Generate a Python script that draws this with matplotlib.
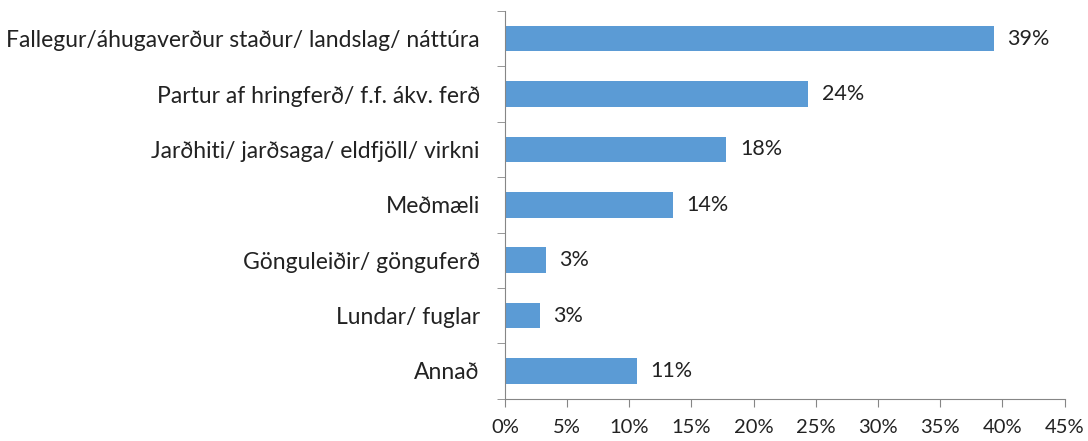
import numpy as np
import matplotlib.pyplot as plt
from matplotlib.ticker import FixedLocator

categories = ['Fallegur/áhugaverður staður/ landslag/ náttúra',
              'Partur af hringferð/ f.f. ákv. ferð',
              'Jarðhiti/ jarðsaga/ eldfjöll/ virkni',
              'Meðmæli',
              'Gönguleiðir/ gönguferð',
              'Lundar/ fuglar',
              'Annað']
values = [39.3, 24.4, 17.8, 13.5, 3.3, 2.8, 10.6]
labels = ['39%', '24%', '18%', '14%', '3%', '3%', '11%']
xticks = np.arange(0, 46, 5)

plt.rcParams['font.family'] = ['Lato', 'DejaVu Sans']

fig = plt.figure(figsize=(10.88, 4.41), dpi=100)
ax = fig.add_axes([0.464, 0.096, 0.5145, 0.879])

y = np.arange(len(categories))
ax.barh(y, values, height=0.46, color='#5B9BD5')
for yi, v, lab in zip(y, values, labels):
    ax.text(v + 1.1, yi, lab, va='center', ha='left', fontsize=15.5, color='#222222')

ax.set_ylim(len(categories) - 0.5, -0.5)
ax.set_xlim(0, 45)
ax.set_yticks(y)
ax.set_yticklabels(categories, fontsize=16.5, color='#222222')
ax.yaxis.set_minor_locator(FixedLocator(np.arange(-0.5, len(categories), 1)))
ax.tick_params(axis='y', which='major', length=0, pad=18)
ax.tick_params(axis='y', which='minor', length=6, color='#868686', direction='out')

ax.set_xticks(xticks)
ax.set_xticklabels([f'{t}%' for t in xticks], fontsize=14.5, color='#222222')
ax.tick_params(axis='x', length=6, color='#868686', direction='out', pad=9)

for s in ['top', 'right']:
    ax.spines[s].set_visible(False)
for s in ['left', 'bottom']:
    ax.spines[s].set_color('#868686')

fig.savefig('out.png', dpi=100)
